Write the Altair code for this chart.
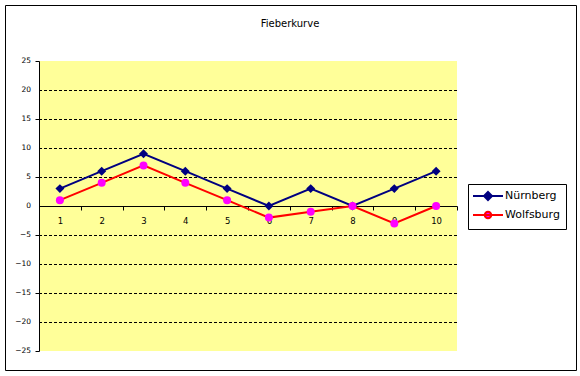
import altair as alt
import pandas as pd

tage = list(range(1, 11))
nuernberg = [3, 6, 9, 6, 3, 0, 3, 0, 3, 6]
wolfsburg = [1, 4, 7, 4, 1, -2, -1, 0, -3, 0]
staedte = ["Nürnberg", "Wolfsburg"]
linien_farben = ["#000080", "#FF0000"]
punkt_farben = ["#000080", "#FF00FF"]
formen = ["diamond", "circle"]
gitter = [-20, -15, -10, -5, 5, 10, 15, 20]
y_ticks = list(range(-25, 30, 5))

rows = []
for t, n, w in zip(tage, nuernberg, wolfsburg):
    rows.append({"Tag": t, "Stadt": staedte[0], "Wert": n})
    rows.append({"Tag": t, "Stadt": staedte[1], "Wert": w})
df = pd.DataFrame(rows)
grid_df = pd.DataFrame({"g": gitter})
ylab_df = pd.DataFrame({"v": y_ticks})

FONT = "DejaVu Sans"
W, H = 418, 290
LEFT, TOP = 39, 61

yscale = alt.Scale(domain=[-25, 25], nice=False, zero=False)
xscale = alt.Scale(paddingInner=0, paddingOuter=0)

yaxis = alt.Axis(title=None, values=y_ticks, grid=False, domainColor="black",
                 tickColor="black", tickSize=4, labels=False)

grid = alt.Chart(grid_df).mark_rule(color="black", strokeDash=[3, 2], strokeWidth=1,
                                    yOffset=0.5).encode(
    y=alt.Y("g:Q", scale=yscale, axis=yaxis)
)

ylabels = alt.Chart(ylab_df).mark_text(align="right", baseline="middle", font=FONT,
                                       fontSize=7.5, color="black").encode(
    y=alt.Y("v:Q", scale=yscale, axis=yaxis),
    x=alt.value(-8),
    text=alt.Text("v:Q"),
)

base = alt.Chart(df)

sym_expr = ("datum.value == 'Wolfsburg' ? "
            "'M-3,0H3M-0.65,0A0.65,0.65 0 1,1 0.65,0A0.65,0.65 0 1,1 -0.65,0Z' : "
            "'M-3,0H3M0,-0.8L0.8,0L0,0.8L-0.8,0Z'")
fill_expr = "datum.value == 'Wolfsburg' ? '#FF00FF' : '#000080'"

lines = base.mark_line(strokeWidth=2).encode(
    x=alt.X("Tag:O", scale=xscale, sort=tage,
            axis=alt.Axis(title=None, offset=-145, tickBand="extent", labelAngle=0,
                          domainColor="black", tickColor="black", labelColor="black",
                          tickSize=4, labelPadding=6, labelFont=FONT, labelFontSize=8.5,
                          grid=False, domainWidth=1)),
    y=alt.Y("Wert:Q", scale=yscale, axis=yaxis),
    color=alt.Color("Stadt:N", scale=alt.Scale(domain=staedte, range=linien_farben),
                    legend=alt.Legend(
                        title=None, orient="none", legendX=429, legendY=123,
                        padding=6, strokeColor="black", fillColor="white",
                        labelFont=FONT, labelFontSize=11, labelColor="black",
                        symbolSize=100, symbolStrokeWidth=2, symbolOffset=8,
                        labelOffset=11, rowPadding=3, cornerRadius=0,
                        symbolType={"expr": sym_expr},
                        symbolFillColor={"expr": fill_expr},
                        symbolOpacity=1)),
    detail="Stadt:N",
)

points = base.mark_point(filled=True, opacity=1, strokeWidth=0).encode(
    x=alt.X("Tag:O", scale=xscale, sort=tage),
    y=alt.Y("Wert:Q", scale=yscale),
    fill=alt.Fill("Stadt:N", scale=alt.Scale(domain=staedte, range=punkt_farben), legend=None),
    shape=alt.Shape("Stadt:N", scale=alt.Scale(domain=staedte, range=formen), legend=None),
    size=alt.Size("Stadt:N", scale=alt.Scale(domain=staedte, range=[80, 64]), legend=None),
)

frame = alt.Chart(pd.DataFrame({"a": [0]})).mark_rect(filled=False, stroke="black", strokeWidth=1).encode(
    x=alt.value(5 - LEFT + 0.5), x2=alt.value(576 - LEFT + 0.5),
    y=alt.value(5 - TOP + 0.5), y2=alt.value(370 - TOP + 0.5),
)

chart = alt.layer(frame, grid, ylabels, lines, points).resolve_scale(
    color="independent"
).properties(
    width=W, height=H,
    background="white",
    title=alt.TitleParams("Fieberkurve", font=FONT, fontSize=10, fontWeight="normal",
                          color="black", anchor="middle", frame="group", dx=42, offset=-24),
    autosize=alt.AutoSizeParams(type="none"),
    padding={"left": LEFT, "top": TOP, "right": 580 - LEFT - W, "bottom": 376 - TOP - H},
).configure_view(fill="#FFFF99", stroke=None)

chart.save("out.html", embed_options={"renderer": "svg", "actions": False})
